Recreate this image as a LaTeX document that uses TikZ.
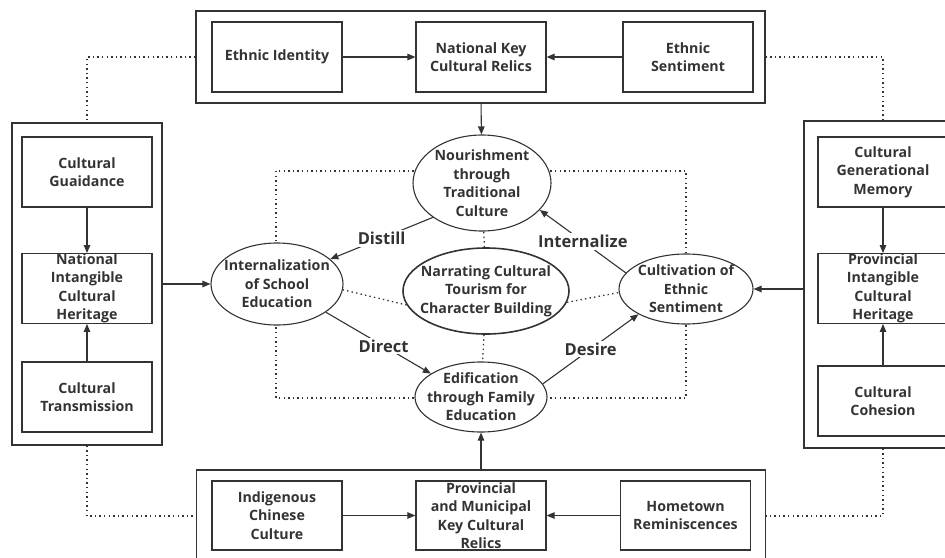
\documentclass[tikz,border=0pt]{standalone}
\usepackage{fontspec}
\setmainfont{Open Sans}
\usepackage{xcolor}
\usetikzlibrary{shapes.geometric,arrows.meta}
\definecolor{ink}{HTML}{333333}

\begin{document}
\begin{tikzpicture}[x=1pt, y=-1pt,
    every node/.style={text=ink, align=center, font=\bfseries\fontsize{14.2}{18.5}\selectfont},
    frame/.style={draw=ink, line width=1.2pt, inner sep=0pt},
    unit/.style={draw=ink, line width=1.2pt, inner sep=0pt, minimum width=130pt, minimum height=70pt},
    bubble/.style={ellipse, draw=ink, line width=1.1pt, fill=white, inner sep=-10pt},
    link/.style={draw=ink, line width=1.1pt, -{Triangle[length=8pt,width=6.5pt]}},
    weak/.style={draw=ink, line width=1.3pt, dash pattern=on 1.4pt off 3.2pt},
    verb/.style={fill=white, inner sep=2pt, font=\bfseries\fontsize{16.5}{19}\selectfont}]
        \clip (0,0) rectangle (945,557);

        % outer frames
        \node[frame, minimum width=569pt, minimum height=92pt] (topbox) at (480.5,57) {};
        \node[frame, minimum width=569pt, minimum height=92pt] (botbox) at (481,516) {};
        \node[frame, minimum width=150pt, minimum height=322pt] (leftbox) at (87,284) {};
        \node[frame, minimum width=158pt, minimum height=327pt] (rightbox) at (883,284.5) {};

        % top row
        \node[unit] (ethid) at (277,57) {Ethnic Identity};
        \node[unit] (natkey) at (481,57) {National Key\\Cultural Relics};
        \node[unit] (ethsent) at (688,57) {Ethnic\\Sentiment};
        \draw[link] (ethid) -- (natkey);
        \draw[link] (ethsent) -- (natkey);

        % left column
        \node[unit] (guid) at (87,172) {Cultural\\Guaidance};
        \node[unit, minimum height=69pt] (natint) at (87,288.5) {National\\Intangible\\Cultural\\Heritage};
        \node[unit] (trans) at (87,397) {Cultural\\Transmission};
        \draw[link] (guid) -- (natint);
        \draw[link] (trans) -- (natint);

        % right column
        \node[unit] (genmem) at (883,172) {Cultural\\Generational\\Memory};
        \node[unit, minimum height=69pt] (provint) at (883,288.5) {Provincial\\Intangible\\Cultural\\Heritage};
        \node[unit] (cohes) at (883,401) {Cultural\\Cohesion};
        \draw[link] (genmem) -- (provint);
        \draw[link] (cohes) -- (provint);

        % bottom row
        \node[unit, minimum height=69pt] (indig) at (277,515.5) {Indigenous\\Chinese\\Culture};
        \node[unit, minimum height=69pt] (provkey) at (481,515.5) {Provincial\\and Municipal\\Key Cultural\\Relics};
        \node[unit, minimum height=69pt] (hometown) at (685.5,515.5) {Hometown\\Reminiscences};
        \draw[link] (indig) -- (provkey);
        \draw[link] (hometown) -- (provkey);

        % dotted frame links
        \draw[weak] (topbox.west) -| (leftbox.north);
        \draw[weak] (topbox.east) -| (rightbox.north);
        \draw[weak] (leftbox.south) |- (botbox.west);
        \draw[weak] (rightbox.south) |- (botbox.east);
        \draw[weak] (276,171) rectangle (686,398);

        % centre
        \node[bubble, minimum width=138pt, minimum height=96pt] (nour) at (482,183) {Nourishment\\through\\Traditional\\Culture};
        \node[bubble, minimum width=132pt, minimum height=82pt] (intern) at (277,284) {Internalization\\of School\\Education};
        \node[bubble, line width=1.6pt, minimum width=166pt, minimum height=86pt] (hub) at (486,291) {Narrating Cultural\\Tourism for\\Character Building};
        \node[bubble, minimum width=134pt, minimum height=70pt] (cult) at (686,289) {Cultivation of\\Ethnic\\Sentiment};
        \node[bubble, minimum width=132pt, minimum height=70pt] (edif) at (481,397) {Edification\\through Family\\Education};

        \draw[weak] (hub) -- (nour);
        \draw[weak] (hub) -- (edif);
        \draw[weak] (hub.190) -- (intern.355);
        \draw[weak] (hub.352) -- (cult.183);

        \draw[link] (nour.215) -- node[verb] {Distill} (intern.25);
        \draw[link] (cult.165) -- node[verb] {Internalize} (nour.335);
        \draw[link] (intern.330) -- node[verb, pos=0.55] {Direct} (edif.155);
        \draw[link] (edif.12) -- node[verb] {Desire} (cult.208);

        \draw[link] (topbox) -- (nour);
        \draw[link] (botbox) -- (edif);
        \draw[link] (leftbox.east |- intern) -- (intern);
        \draw[link] (rightbox.west |- cult) -- (cult);
    \end{tikzpicture}
\end{document}
